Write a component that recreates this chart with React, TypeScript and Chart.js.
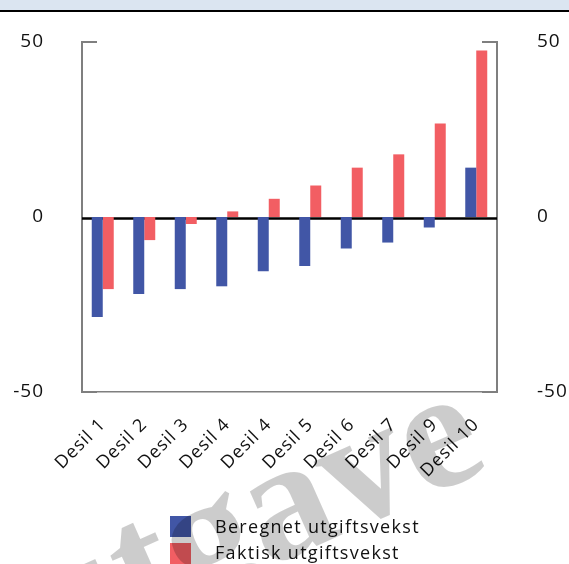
import React, { useEffect, useRef } from "react";
import { Chart, registerables } from "chart.js";

Chart.register(...registerables);

const categories = ["Desil 1", "Desil 2", "Desil 3", "Desil 4", "Desil 4", "Desil 5", "Desil 6", "Desil 7", "Desil 9", "Desil 10"];
const beregnet = [-28.6, -22, -20.6, -19.8, -15.5, -14, -9, -7.3, -3, 14.1];
const faktisk = [-20.6, -6.6, -2, 1.6, 5.2, 9, 14.1, 17.9, 26.7, 47.6];
const seriesNames = ["Beregnet utgiftsvekst", "Faktisk utgiftsvekst"];
const seriesColors = ["#4156a6", "#f25e63"];
const yMin = -50;
const yMax = 50;
const yStep = 50;
const watermarkText = "utgave";

const FONT = "'Open Sans', 'Noto Sans', sans-serif";

const framePlugin = {
  id: "frame",
  beforeLayout(chart: any) {
    chart.ctx.letterSpacing = "1px";
  },
  beforeDraw(chart: any) {
    chart.ctx.letterSpacing = "1px";
  },
  beforeDatasetsDraw(chart: any) {
    const { ctx, chartArea, scales } = chart;
    const y = scales.y;
    ctx.save();
    ctx.strokeStyle = "#7f7f7f";
    ctx.lineWidth = 2;
    for (const v of [yMax, yMin]) {
      const py = Math.round(y.getPixelForValue(v));
      ctx.beginPath();
      ctx.moveTo(chartArea.left, py);
      ctx.lineTo(chartArea.left + 15, py);
      ctx.moveTo(chartArea.right - 15, py);
      ctx.lineTo(chartArea.right, py);
      ctx.stroke();
    }
    const z = y.getPixelForValue(0);
    ctx.strokeStyle = "#000";
    ctx.lineWidth = 2.5;
    ctx.beginPath();
    ctx.moveTo(chartArea.left, z + 1.5);
    ctx.lineTo(chartArea.right, z + 1.5);
    ctx.stroke();
    ctx.restore();
  },
};

export default function App() {
  const canvasRef = useRef<HTMLCanvasElement | null>(null);

  useEffect(() => {
    if (!canvasRef.current) return;
    const chart = new Chart(canvasRef.current, {
      type: "bar",
      data: {
        labels: categories,
        datasets: [
          { label: seriesNames[0], data: beregnet, backgroundColor: seriesColors[0], yAxisID: "y" },
          { label: seriesNames[1], data: faktisk, backgroundColor: seriesColors[1], yAxisID: "y" },
        ],
      },
      options: {
        animation: false,
        responsive: true,
        maintainAspectRatio: false,
        layout: { padding: { top: 42, bottom: 0, left: 0, right: 0 } },
        datasets: { bar: { categoryPercentage: 0.53, barPercentage: 1 } },
        plugins: {
          legend: { display: false },
          tooltip: { enabled: false },
        },
        scales: {
          x: {
            grid: { display: false },
            border: { display: true, color: "#7f7f7f", width: 1.5 },
            ticks: {
              color: "#111",
              font: { family: FONT, size: 18 },
              maxRotation: 45,
              minRotation: 45,
              autoSkip: false,
              padding: 14,
            },
            afterFit: (s: any) => {
              s.height = 172;
            },
          },
          y: {
            position: "left",
            min: yMin,
            max: yMax,
            grid: { display: false, drawTicks: true, tickLength: 36 },
            border: { display: true, color: "#7f7f7f", width: 2 },
            ticks: { stepSize: yStep, color: "#111", font: { family: FONT, size: 19 }, padding: 2 },
            afterFit: (s: any) => {
              s.width = 82;
            },
          },
          y1: {
            position: "right",
            min: yMin,
            max: yMax,
            grid: { display: false, drawTicks: true, tickLength: 38 },
            border: { display: true, color: "#7f7f7f", width: 2 },
            ticks: { stepSize: yStep, color: "#111", font: { family: FONT, size: 19 }, padding: 2 },
            afterFit: (s: any) => {
              s.width = 72;
            },
          },
        },
      },
      plugins: [framePlugin],
    } as any);
    return () => chart.destroy();
  }, []);

  return (
    <div style={{ position: "fixed", left: 0, top: 0, width: 569, height: 564, background: "#fff", overflow: "hidden" }}>
      <div style={{ position: "absolute", left: 0, top: 0, width: 569, height: 10, background: "#dbe5f1" }} />
      <div style={{ position: "absolute", left: 0, top: 10, width: 569, height: 2, background: "#000" }} />
      <div style={{ position: "absolute", left: 0, top: 0, width: 569, height: 564 }}>
        <canvas ref={canvasRef} />
      </div>
      {seriesNames.map((name, i) => (
        <React.Fragment key={name}>
          <div
            style={{
              position: "absolute",
              left: 170,
              top: 516 + i * 27,
              width: 21,
              height: 21,
              background: seriesColors[i],
            }}
          />
          <div
            style={{
              position: "absolute",
              left: 215,
              top: 516 + i * 26,
              fontFamily: FONT,
              fontSize: 18,
              lineHeight: "21px",
              letterSpacing: "1.3px",
              color: "#111",
              whiteSpace: "nowrap",
            }}
          >
            {name}
          </div>
        </React.Fragment>
      ))}
      <div
        style={{
          position: "absolute",
          left: -6,
          top: 534,
          fontFamily: "'Liberation Serif', serif",
          fontWeight: "bold",
          fontSize: 170,
          lineHeight: 1,
          color: "rgba(0,0,0,0.2)",
          whiteSpace: "nowrap",
          transform: "rotate(-24deg)",
          transformOrigin: "0 0",
          pointerEvents: "none",
        }}
      >
        {watermarkText}
      </div>
    </div>
  );
}
